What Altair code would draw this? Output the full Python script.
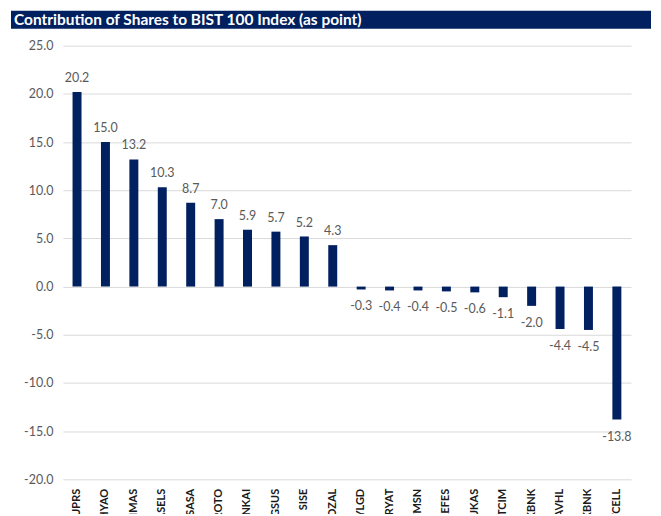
import altair as alt
import pandas as pd

tickers = ["TUPRS", "THYAO", "BIMAS", "ASELS", "SASA", "FROTO", "ENKAI", "PGSUS",
           "SISE", "KOZAL", "YLGD", "BRYAT", "TMSN", "AEFES", "TUKAS", "BTCIM",
           "YKBNK", "TAVHL", "AKBNK", "TCELL"]
points = [20.2, 15.0, 13.2, 10.3, 8.7, 7.0, 5.9, 5.7, 5.2, 4.3,
          -0.3, -0.4, -0.4, -0.5, -0.6, -1.1, -2.0, -4.4, -4.5, -13.8]
y_ticks = [-20, -15, -10, -5, 0, 5, 10, 15, 20, 25]
title_text = "Contribution of Shares to BIST 100 Index (as point)"

df = pd.DataFrame({"ticker": tickers, "point": points})
df["label"] = [f"{v:.1f}" for v in points]

NAVY = "#002060"
GRAY = "#595959"
FONT = "Lato"

x_enc = alt.X("ticker:N", sort=None, title=None,
              scale=alt.Scale(paddingInner=0.68, paddingOuter=0.34),
              axis=alt.Axis(labelAngle=-90, labelFontWeight="bold", labelFontSize=11,
                            labelColor="#1a1a1a", labelFont=FONT, labelPadding=9,
                            ticks=False, domain=False, grid=False, labelOverlap=False))
y_enc = alt.Y("point:Q", title=None,
              scale=alt.Scale(domain=[-20, 25], nice=False, zero=False),
              axis=alt.Axis(values=y_ticks, labelExpr="replace(format(datum.value, '.1f'), '−', '-')",
                            labelColor=GRAY, labelFontSize=12.5, labelFont=FONT, labelPadding=10,
                            ticks=False, domain=False, gridColor="#d9d9d9", gridWidth=1))

bars = alt.Chart(df).mark_bar(color=NAVY, size=9).encode(x=x_enc, y=y_enc)

pos = alt.Chart(df).transform_filter("datum.point >= 0").mark_text(
    baseline="bottom", dy=-7, fontSize=12.5, color=GRAY, font=FONT
).encode(x=alt.X("ticker:N", sort=tickers), y="point:Q", text="label:N")

neg = alt.Chart(df).transform_filter("datum.point < 0").mark_text(
    baseline="top", dy=11, fontSize=12.5, color=GRAY, font=FONT
).encode(x=alt.X("ticker:N", sort=tickers), y="point:Q", text="label:N")

banner = alt.Chart(alt.Data(values=[{"t": title_text}])).mark_rect(color=NAVY).encode(
    x=alt.value(-52), x2=alt.value(590), y=alt.value(-35), y2=alt.value(-17))

banner_text = alt.Chart(alt.Data(values=[{"t": title_text}])).mark_text(
    align="left", baseline="middle", color="white", fontWeight="bold", fontSize=15.5, font=FONT
).encode(x=alt.value(-49), y=alt.value(-26), text="t:N")

chart = alt.layer(bars, pos, neg, banner, banner_text).properties(
    width=570, height=435,
    autosize=alt.AutoSizeParams(type="none"),
    padding={"left": 55, "top": 37, "right": 22, "bottom": 34},
).configure_view(stroke=None)

chart.save("out.html", embed_options={"renderer": "svg", "actions": False})
